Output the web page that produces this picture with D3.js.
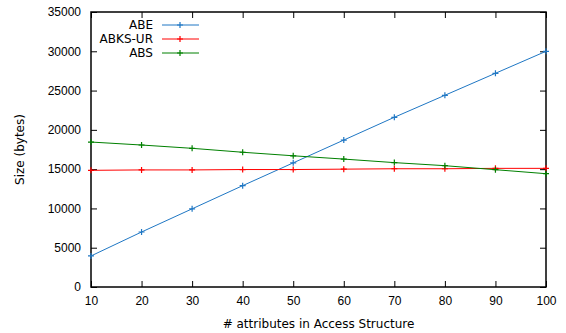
<!DOCTYPE html>
<html>
<head>
<meta charset="utf-8">
<script src="https://cdn.jsdelivr.net/npm/d3@7"></script>
<style>
  body { margin: 0; background: #fff; }
  svg { font-family: "DejaVu Sans", sans-serif; }
</style>
</head>
<body>
<svg width="566" height="333"></svg>
<script>
const attributes = [10, 20, 30, 40, 50, 60, 70, 80, 90, 100];
const abe = [3950, 7000, 9950, 12900, 15800, 18700, 21600, 24400, 27200, 30000];
const abksUr = [14850, 14900, 14900, 14950, 14950, 15000, 15050, 15050, 15100, 15100];
const abs = [18450, 18070, 17650, 17150, 16700, 16280, 15830, 15440, 14930, 14420];
const yTicks = [0, 5000, 10000, 15000, 20000, 25000, 30000, 35000];

const seriesList = [
    { name: "ABE", values: abe, color: "#1f77c4" },
    { name: "ABKS-UR", values: abksUr, color: "#ff0000" },
    { name: "ABS", values: abs, color: "#008000" }
];

const svg = d3.select("svg");
const area = { left: 91, right: 546, top: 12, bottom: 287 };

const scaleX = d3.scaleLinear().domain([10, 100]).range([area.left, area.right]);
const scaleY = d3.scaleLinear().domain([0, 35000]).range([area.bottom, area.top]);

// axes with inward ticks, mirrored on the top and right
function styleAxis(g) {
    g.select(".domain").remove();
    g.selectAll("line").attr("stroke", "#000");
    g.selectAll("text").attr("fill", "#000").style("font-size", "12px");
}

svg.append("g")
    .attr("transform", `translate(0, ${area.bottom})`)
    .call(d3.axisBottom(scaleX).tickValues(attributes).tickSize(-6).tickPadding(9).tickFormat(d3.format("d")))
    .call(styleAxis);

svg.append("g")
    .attr("transform", `translate(0, ${area.top})`)
    .call(d3.axisTop(scaleX).tickValues(attributes).tickSize(-6).tickFormat(""))
    .call(styleAxis);

svg.append("g")
    .attr("transform", `translate(${area.left}, 0)`)
    .call(d3.axisLeft(scaleY).tickValues(yTicks).tickSize(-6).tickPadding(10).tickFormat(d3.format("d")))
    .call(styleAxis);

svg.append("g")
    .attr("transform", `translate(${area.right}, 0)`)
    .call(d3.axisRight(scaleY).tickValues(yTicks).tickSize(-6).tickFormat(""))
    .call(styleAxis);

svg.append("rect")
    .attr("x", area.left)
    .attr("y", area.top)
    .attr("width", area.right - area.left)
    .attr("height", area.bottom - area.top)
    .attr("fill", "none")
    .attr("stroke", "#000")
    .attr("stroke-width", 1.5);

const line = d3.line()
    .x((d, i) => scaleX(attributes[i]))
    .y((d) => scaleY(d));

function plus(sel, color) {
    sel.append("path")
        .attr("d", "M-3,0H3M0,-3V3")
        .attr("stroke", color)
        .attr("stroke-width", 1.2);
}

for (const s of seriesList) {
    svg.append("path")
        .datum(s.values)
        .attr("fill", "none")
        .attr("stroke", s.color)
        .attr("stroke-width", 1)
        .attr("d", line);

    svg.selectAll(null)
        .data(s.values)
        .enter()
        .append("g")
        .attr("transform", (d, i) => `translate(${scaleX(attributes[i])}, ${scaleY(d)})`)
        .call(plus, s.color);
}

// legend
const legend = svg.append("g");
seriesList.forEach((s, i) => {
    const y = 25 + i * 14;
    legend.append("text")
        .attr("x", 153)
        .attr("y", y)
        .attr("dy", "0.35em")
        .attr("text-anchor", "end")
        .style("font-size", "12px")
        .text(s.name);
    legend.append("line")
        .attr("x1", 162).attr("x2", 199)
        .attr("y1", y).attr("y2", y)
        .attr("stroke", s.color)
        .attr("stroke-width", 1);
    legend.append("g")
        .attr("transform", `translate(180, ${y})`)
        .call(plus, s.color);
});

svg.append("text")
    .attr("x", (area.left + area.right) / 2)
    .attr("y", 328)
    .attr("text-anchor", "middle")
    .style("font-size", "12px")
    .text("# attributes in Access Structure");

svg.append("text")
    .attr("transform", `translate(24, ${(area.top + area.bottom) / 2}) rotate(-90)`)
    .attr("text-anchor", "middle")
    .style("font-size", "12px")
    .text("Size (bytes)");
</script>
</body>
</html>
